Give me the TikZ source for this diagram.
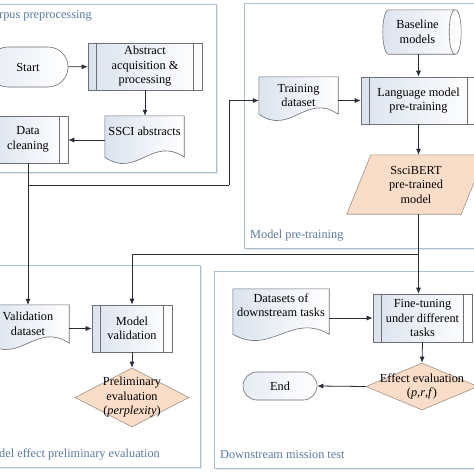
\documentclass[tikz,border=0pt]{standalone}
\usepackage{fontspec}
\setmainfont{Liberation Serif}
\usetikzlibrary{shapes.geometric,backgrounds,calc,arrows.meta}
\definecolor{linecol}{HTML}{262B36}
\definecolor{boxL}{HTML}{DCE3EE}
\definecolor{peach}{HTML}{FADDC8}
\definecolor{peachline}{HTML}{A09284}
\definecolor{panelline}{HTML}{AFBFD0}
\definecolor{panelshadow}{HTML}{DEE6EF}
\definecolor{titlecol}{HTML}{5A79A2}
\definecolor{boxline}{HTML}{6E6E78}
\tikzset{
  every node/.style={font=\fontsize{12.3}{14.5}\selectfont, align=center, inner sep=0pt},
  procbox/.style={draw=boxline, line width=0.6pt, left color=boxL, right color=white},
  stadium/.style={draw=boxline, line width=0.6pt, left color=boxL!70, right color=white},
  docfill/.style={draw=boxline, line width=0.6pt, left color=boxL, right color=white},
  decision/.style={shape=diamond, draw=peachline, fill=peach, line width=0.6pt},
  panel/.style={draw=panelline, line width=0.7pt, fill=white},
  ptitle/.style={text=titlecol, anchor=west},
  arr/.style={draw=linecol, line width=0.8pt, -{Latex[length=6pt,width=5pt]}},
  plain/.style={draw=linecol, line width=0.8pt}
}
\newcommand\procl[2]{%
  \draw[boxline, line width=0.6pt] ([xshift=#2]#1.north west) -- ([xshift=#2]#1.south west);
  \draw[boxline, line width=0.6pt] ([xshift=-#2]#1.north east) -- ([xshift=-#2]#1.south east);}
\newcommand\drawdoc[1]{%
  \begin{scope}[on background layer]
  \shadedraw[docfill] (#1.north west) -- (#1.north east) -- (#1.south east)
    .. controls ($(#1.south east)!0.4!(#1.south west)+(0,-22)$) and ($(#1.south west)!0.4!(#1.south east)+(0,22)$) .. (#1.south west) -- cycle;
  \end{scope}}
\begin{document}
\begin{tikzpicture}[x=1pt,y=-1pt]
\useasboundingbox (0,0) rectangle (474,474);
% panels
\begin{scope}[on background layer]
\fill[panelshadow] (-10,6) rectangle (218,174);
\filldraw[panel] (-10,4) rectangle (216,172);
\fill[panelshadow] (246,5) rectangle (482,250);
\filldraw[panel] (244,3) rectangle (480,248);
\fill[panelshadow] (-10,267) rectangle (202,469);
\filldraw[panel] (-10,265) rectangle (200,467);
\fill[panelshadow] (216,273) rectangle (482,470);
\filldraw[panel] (214,271) rectangle (480,468);
\end{scope}
\node[ptitle] (t1) at (-1,16) {rpus preprocessing};
\node[ptitle] (t2) at (250,236) {Model pre-training};
\node[ptitle] (t3) at (-1,454) {del effect preliminary evaluation};
\node[ptitle] (t4) at (220,454) {Downstream mission test};

% corpus preprocessing
\node[stadium, rounded corners=20pt, minimum width=80pt, minimum height=40pt] (start) at (28,67) {Start};
\node[procbox, minimum width=114pt, minimum height=47pt] (abs) at (145,66.5) {Abstract\\acquisition \&\\processing};
\procl{abs}{9pt}
\node[minimum width=79pt, minimum height=41pt] (ssci) at (144.5,136.5) {SSCI abstracts\\[-4pt]};
\drawdoc{ssci}
\node[procbox, minimum width=80pt, minimum height=47pt] (dc) at (28,139.5) {Data\\cleaning};
\procl{dc}{9pt}

% model pre-training
\node[minimum width=79pt, minimum height=37pt] (train) at (298.5,95.5) {Training\\dataset};
\drawdoc{train}
\node[procbox, minimum width=115pt, minimum height=47pt] (lm) at (418.5,100.5) {Language model\\pre-training};
\procl{lm}{9pt}
\node[minimum width=78pt, minimum height=44pt] (base) at (422,32) {Baseline\hspace*{9pt}\\models\hspace*{9pt}};
\begin{scope}[on background layer]
\shadedraw[docfill] ($(base.north west)+(6,0)$) -- ($(base.north east)+(-6,0)$)
  .. controls ($(base.north east)+(2,0)$) and ($(base.south east)+(2,0)$) .. ($(base.south east)+(-6,0)$)
  -- ($(base.south west)+(6,0)$)
  .. controls ($(base.south west)+(-2,0)$) and ($(base.north west)+(-2,0)$) .. cycle;
\draw[boxline, line width=0.6pt] ($(base.south east)+(-6,0)$)
  .. controls ($(base.south east)+(-14,0)$) and ($(base.north east)+(-14,0)$) .. ($(base.north east)+(-6,0)$);
\end{scope}
\node[minimum width=114pt, minimum height=59pt] (bert) at (416,184.5) {SsciBERT\\pre-trained\\model};
\begin{scope}[on background layer]
\filldraw[fill=peach, draw=peachline, line width=0.6pt] ([xshift=-12pt]bert.south west) -- ([xshift=-12pt]bert.south east) -- ([xshift=12pt]bert.north east) -- ([xshift=12pt]bert.north west) -- cycle;
\end{scope}

% model effect preliminary evaluation
\node[minimum width=82pt, minimum height=38pt] (val) at (28,324) {Validation\\dataset};
\drawdoc{val}
\node[procbox, minimum width=80pt, minimum height=47pt] (mval) at (132,328.5) {Model\\validation};
\procl{mval}{9pt}
\node[decision, minimum width=114pt, minimum height=59pt, label={[align=center]center:{Preliminary\\evaluation\\(\textit{perplexity})}}] (prelim) at (132,397.5) {};

% downstream mission test
\node[minimum width=96pt, minimum height=45pt] (dsd) at (281,311.5) {Datasets of\\downstream tasks\\[-2pt]};
\drawdoc{dsd}
\node[procbox, minimum width=99pt, minimum height=48pt] (fine) at (422.5,318) {Fine-tuning\\under different\\tasks};
\procl{fine}{9pt}
\node[decision, minimum width=112pt, minimum height=47pt, label={[align=center]center:{Effect evaluation\\(\textit{p},\textit{r},\textit{f})}}] (eff) at (422,386.5) {};
\node[stadium, rounded corners=14pt, minimum width=74pt, minimum height=28pt] (end) at (280,386) {End};

% connectors
\coordinate (bend1) at (229,185);
\coordinate (bend2) at (418,254);
\draw[arr] (start) -- (abs);
\draw[arr] (abs.south) -- (abs.south |- ssci.north);
\draw[arr] (ssci.west |- 0,140) -- (dc.east |- 0,140);
\draw[plain] (dc.south) |- (bend1);
\draw[arr] (bend1) |- (train.west |- lm.west);
\draw[arr] (dc.south) -- (val.north);
\draw[arr] (train.east |- lm.west) -- (lm.west);
\draw[arr] (lm.north |- base.south) -- (lm.north);
\draw[arr] (lm.south) -- (lm.south |- bert.north);
\draw[arr] (lm.south |- bert.south) -- (lm.south |- fine.north);
\draw[arr] (bend2) -| (mval.north);
\draw[arr] (val.east |- mval.west) -- (mval.west);
\draw[arr] (mval.south) -- (prelim.north);
\draw[arr] (dsd.east |- fine.west) -- (fine.west);
\draw[arr] (fine.south) -- (eff.north);
\draw[arr] (eff.west) -- (end.east);
\end{tikzpicture}
\end{document}
